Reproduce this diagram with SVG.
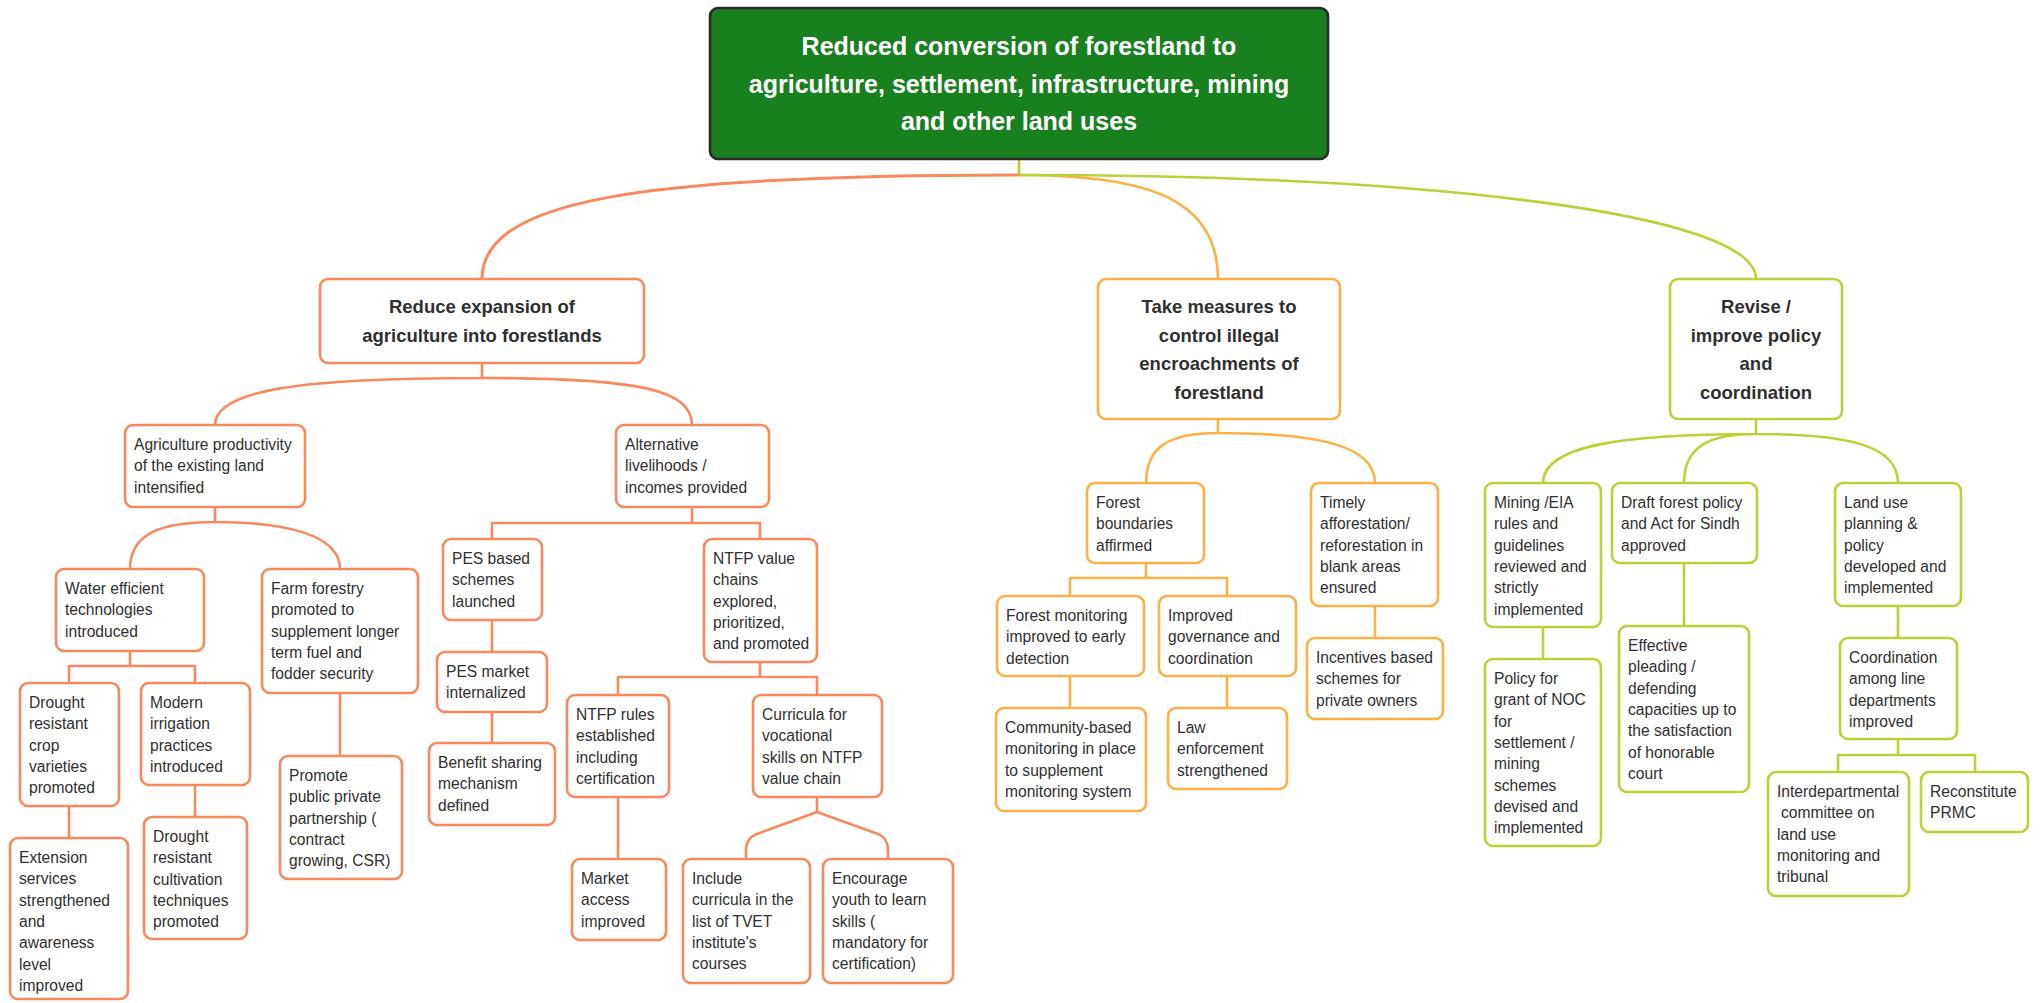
<svg xmlns="http://www.w3.org/2000/svg" width="2040" height="1003" viewBox="0 0 2040 1003">
<style>
.bg{fill:#ffffff}
.n rect{fill:#ffffff;stroke-width:2.6}
.o rect{stroke:#F8895C}
.a rect{stroke:#FDB043}
.g rect{stroke:#B9D236}
.root rect{fill:#19801F;stroke:#2a2a2a;stroke-width:2.6}
text{font-family:"Liberation Sans",Arial,sans-serif;fill:#2f2f2f}
.t{font-size:15.6px}
.h{font-size:18.5px;font-weight:bold;text-anchor:middle}
.r{font-size:25px;font-weight:bold;text-anchor:middle;fill:#ffffff}
.c path{fill:none;stroke-width:2.6;stroke-linejoin:round}
.c .co{stroke:#F8895C}
.c .ca{stroke:#FDB043}
.c .cg{stroke:#B9D236}
.c .cs{stroke:#C2C43A}
</style>
<rect class="bg" x="0" y="0" width="2040" height="1003"/>
<g id="connectors" class="c">
<path class="cs" d="M1019,159 V175"/>
<path class="co" d="M1019,175 C640,175 482,200 482,279" style="stroke-width:3"/>
<path class="ca" d="M1019,175 C1150,175 1218,200 1218,279"/>
<path class="cg" d="M1019,175 C1420,175 1756,212 1756,279"/>
<path class="co" d="M482,363 V378 M482,378 C300,378 215,390 215,425 M482,378 C640,378 692,390 692,425"/>
<path class="co" d="M215,507 V522 M215,522 C160,522 130,534 130,569 M215,522 C283,522 340,534 340,569"/>
<path class="co" d="M130,651 V666 M69,683 V666 H195 V683"/>
<path class="co" d="M69,806 V838 M195,785 V817 M340,693 V756"/>
<path class="co" d="M692,507 V523 M492,539 V523 H760 V539"/>
<path class="co" d="M492,620 V652 M492,712 V743"/>
<path class="co" d="M760,662 V677 M618,695 V677 H817 V695"/>
<path class="co" d="M618,797 V859"/>
<path class="co" d="M817,797 V812 M817,812 L757,834 Q746,838 746,850 V859 M817,812 L878,834 Q888,838 888,850 V859"/>
<path class="ca" d="M1218,419 V433 M1218,433 C1170,433 1146,446 1146,483 M1218,433 C1320,433 1375,446 1375,483"/>
<path class="ca" d="M1146,563 V578 M1070,596 V578 H1227 V596"/>
<path class="ca" d="M1070,676 V708 M1227,676 V708 M1375,606 V638"/>
<path class="cg" d="M1756,419 V434 M1756,434 C1620,434 1543,446 1543,483 M1756,434 C1710,434 1684,446 1684,483 M1756,434 C1850,434 1898,446 1898,483"/>
<path class="cg" d="M1543,627 V659 M1684,563 V626 M1898,606 V638"/>
<path class="cg" d="M1898,739 V755 M1838,772 V755 H1975 V772"/>
</g>
<g id="root" class="root">
<rect x="710" y="8" width="618" height="151" rx="8"/>
<text class="r" x="1019" y="55">Reduced conversion of forestland to</text>
<text class="r" x="1019" y="93">agriculture, settlement, infrastructure, mining</text>
<text class="r" x="1019" y="130">and other land uses</text>
</g>
<g id="reduce-expansion" class="n o">
<rect x="320" y="279" width="324" height="84" rx="8"/>
<text class="h" x="482" y="313">Reduce expansion of</text>
<text class="h" x="482" y="342">agriculture into forestlands</text>
</g>
<g id="take-measures" class="n a">
<rect x="1098" y="279" width="242" height="140" rx="8"/>
<text class="h" x="1219" y="313">Take measures to</text>
<text class="h" x="1219" y="341.5">control illegal</text>
<text class="h" x="1219" y="370">encroachments of</text>
<text class="h" x="1219" y="398.5">forestland</text>
</g>
<g id="revise-policy" class="n g">
<rect x="1670" y="279" width="172" height="140" rx="8"/>
<text class="h" x="1756" y="313">Revise /</text>
<text class="h" x="1756" y="341.5">improve policy</text>
<text class="h" x="1756" y="370">and</text>
<text class="h" x="1756" y="398.5">coordination</text>
</g>
<g id="agri-productivity" class="n o">
<rect x="125" y="425" width="180" height="82" rx="8"/>
<text class="t" x="134" y="450"><tspan x="134">Agriculture productivity</tspan><tspan x="134" dy="21.3">of the existing land</tspan><tspan x="134" dy="21.3">intensified</tspan></text>
</g>
<g id="alt-livelihoods" class="n o">
<rect x="616" y="425" width="153" height="82" rx="8"/>
<text class="t" x="625" y="450"><tspan x="625">Alternative</tspan><tspan x="625" dy="21.3">livelihoods /</tspan><tspan x="625" dy="21.3">incomes provided</tspan></text>
</g>
<g id="water-efficient" class="n o">
<rect x="56" y="569" width="148" height="82" rx="8"/>
<text class="t" x="65" y="594"><tspan x="65">Water efficient</tspan><tspan x="65" dy="21.3">technologies</tspan><tspan x="65" dy="21.3">introduced</tspan></text>
</g>
<g id="farm-forestry" class="n o">
<rect x="262" y="569" width="156" height="124" rx="8"/>
<text class="t" x="271" y="594"><tspan x="271">Farm forestry</tspan><tspan x="271" dy="21.3">promoted to</tspan><tspan x="271" dy="21.3">supplement longer</tspan><tspan x="271" dy="21.3">term fuel and</tspan><tspan x="271" dy="21.3">fodder security</tspan></text>
</g>
<g id="drought-crop" class="n o">
<rect x="20" y="683" width="99" height="123" rx="8"/>
<text class="t" x="29" y="708"><tspan x="29">Drought</tspan><tspan x="29" dy="21.3">resistant</tspan><tspan x="29" dy="21.3">crop</tspan><tspan x="29" dy="21.3">varieties</tspan><tspan x="29" dy="21.3">promoted</tspan></text>
</g>
<g id="modern-irrigation" class="n o">
<rect x="141" y="683" width="109" height="102" rx="8"/>
<text class="t" x="150" y="708"><tspan x="150">Modern</tspan><tspan x="150" dy="21.3">irrigation</tspan><tspan x="150" dy="21.3">practices</tspan><tspan x="150" dy="21.3">introduced</tspan></text>
</g>
<g id="extension-services" class="n o">
<rect x="10" y="838" width="118" height="161" rx="8"/>
<text class="t" x="19" y="863"><tspan x="19">Extension</tspan><tspan x="19" dy="21.3">services</tspan><tspan x="19" dy="21.3">strengthened</tspan><tspan x="19" dy="21.3">and</tspan><tspan x="19" dy="21.3">awareness</tspan><tspan x="19" dy="21.3">level</tspan><tspan x="19" dy="21.3">improved</tspan></text>
</g>
<g id="drought-cultivation" class="n o">
<rect x="144" y="817" width="103" height="122" rx="8"/>
<text class="t" x="153" y="842"><tspan x="153">Drought</tspan><tspan x="153" dy="21.3">resistant</tspan><tspan x="153" dy="21.3">cultivation</tspan><tspan x="153" dy="21.3">techniques</tspan><tspan x="153" dy="21.3">promoted</tspan></text>
</g>
<g id="promote-ppp" class="n o">
<rect x="280" y="756" width="122" height="123" rx="8"/>
<text class="t" x="289" y="781"><tspan x="289">Promote</tspan><tspan x="289" dy="21.3">public private</tspan><tspan x="289" dy="21.3">partnership (</tspan><tspan x="289" dy="21.3">contract</tspan><tspan x="289" dy="21.3">growing, CSR)</tspan></text>
</g>
<g id="pes-schemes" class="n o">
<rect x="443" y="539" width="99" height="81" rx="8"/>
<text class="t" x="452" y="564"><tspan x="452">PES based</tspan><tspan x="452" dy="21.3">schemes</tspan><tspan x="452" dy="21.3">launched</tspan></text>
</g>
<g id="pes-market" class="n o">
<rect x="437" y="652" width="110" height="60" rx="8"/>
<text class="t" x="446" y="677"><tspan x="446">PES market</tspan><tspan x="446" dy="21.3">internalized</tspan></text>
</g>
<g id="benefit-sharing" class="n o">
<rect x="429" y="743" width="126" height="82" rx="8"/>
<text class="t" x="438" y="768"><tspan x="438">Benefit sharing</tspan><tspan x="438" dy="21.3">mechanism</tspan><tspan x="438" dy="21.3">defined</tspan></text>
</g>
<g id="ntfp-chains" class="n o">
<rect x="704" y="539" width="113" height="123" rx="8"/>
<text class="t" x="713" y="564"><tspan x="713">NTFP value</tspan><tspan x="713" dy="21.3">chains</tspan><tspan x="713" dy="21.3">explored,</tspan><tspan x="713" dy="21.3">prioritized,</tspan><tspan x="713" dy="21.3">and promoted</tspan></text>
</g>
<g id="ntfp-rules" class="n o">
<rect x="567" y="695" width="102" height="102" rx="8"/>
<text class="t" x="576" y="720"><tspan x="576">NTFP rules</tspan><tspan x="576" dy="21.3">established</tspan><tspan x="576" dy="21.3">including</tspan><tspan x="576" dy="21.3">certification</tspan></text>
</g>
<g id="curricula" class="n o">
<rect x="753" y="695" width="129" height="102" rx="8"/>
<text class="t" x="762" y="720"><tspan x="762">Curricula for</tspan><tspan x="762" dy="21.3">vocational</tspan><tspan x="762" dy="21.3">skills on NTFP</tspan><tspan x="762" dy="21.3">value chain</tspan></text>
</g>
<g id="market-access" class="n o">
<rect x="572" y="859" width="94" height="81" rx="8"/>
<text class="t" x="581" y="884"><tspan x="581">Market</tspan><tspan x="581" dy="21.3">access</tspan><tspan x="581" dy="21.3">improved</tspan></text>
</g>
<g id="include-curricula" class="n o">
<rect x="683" y="859" width="127" height="124" rx="8"/>
<text class="t" x="692" y="884"><tspan x="692">Include</tspan><tspan x="692" dy="21.3">curricula in the</tspan><tspan x="692" dy="21.3">list of TVET</tspan><tspan x="692" dy="21.3">institute's</tspan><tspan x="692" dy="21.3">courses</tspan></text>
</g>
<g id="encourage-youth" class="n o">
<rect x="823" y="859" width="130" height="124" rx="8"/>
<text class="t" x="832" y="884"><tspan x="832">Encourage</tspan><tspan x="832" dy="21.3">youth to learn</tspan><tspan x="832" dy="21.3">skills (</tspan><tspan x="832" dy="21.3">mandatory for</tspan><tspan x="832" dy="21.3">certification)</tspan></text>
</g>
<g id="forest-boundaries" class="n a">
<rect x="1087" y="483" width="117" height="80" rx="8"/>
<text class="t" x="1096" y="508"><tspan x="1096">Forest</tspan><tspan x="1096" dy="21.3">boundaries</tspan><tspan x="1096" dy="21.3">affirmed</tspan></text>
</g>
<g id="timely-afforestation" class="n a">
<rect x="1311" y="483" width="127" height="123" rx="8"/>
<text class="t" x="1320" y="508"><tspan x="1320">Timely</tspan><tspan x="1320" dy="21.3">afforestation/</tspan><tspan x="1320" dy="21.3">reforestation in</tspan><tspan x="1320" dy="21.3">blank areas</tspan><tspan x="1320" dy="21.3">ensured</tspan></text>
</g>
<g id="forest-monitoring" class="n a">
<rect x="997" y="596" width="147" height="80" rx="8"/>
<text class="t" x="1006" y="621"><tspan x="1006">Forest monitoring</tspan><tspan x="1006" dy="21.3">improved to early</tspan><tspan x="1006" dy="21.3">detection</tspan></text>
</g>
<g id="improved-governance" class="n a">
<rect x="1159" y="596" width="137" height="80" rx="8"/>
<text class="t" x="1168" y="621"><tspan x="1168">Improved</tspan><tspan x="1168" dy="21.3">governance and</tspan><tspan x="1168" dy="21.3">coordination</tspan></text>
</g>
<g id="community-monitoring" class="n a">
<rect x="996" y="708" width="150" height="103" rx="8"/>
<text class="t" x="1005" y="733"><tspan x="1005">Community-based</tspan><tspan x="1005" dy="21.3">monitoring in place</tspan><tspan x="1005" dy="21.3">to supplement</tspan><tspan x="1005" dy="21.3">monitoring system</tspan></text>
</g>
<g id="law-enforcement" class="n a">
<rect x="1168" y="708" width="119" height="81" rx="8"/>
<text class="t" x="1177" y="733"><tspan x="1177">Law</tspan><tspan x="1177" dy="21.3">enforcement</tspan><tspan x="1177" dy="21.3">strengthened</tspan></text>
</g>
<g id="incentives" class="n a">
<rect x="1307" y="638" width="136" height="81" rx="8"/>
<text class="t" x="1316" y="663"><tspan x="1316">Incentives based</tspan><tspan x="1316" dy="21.3">schemes for</tspan><tspan x="1316" dy="21.3">private owners</tspan></text>
</g>
<g id="mining-eia" class="n g">
<rect x="1485" y="483" width="116" height="144" rx="8"/>
<text class="t" x="1494" y="508"><tspan x="1494">Mining /EIA</tspan><tspan x="1494" dy="21.3">rules and</tspan><tspan x="1494" dy="21.3">guidelines</tspan><tspan x="1494" dy="21.3">reviewed and</tspan><tspan x="1494" dy="21.3">strictly</tspan><tspan x="1494" dy="21.3">implemented</tspan></text>
</g>
<g id="draft-policy" class="n g">
<rect x="1612" y="483" width="145" height="80" rx="8"/>
<text class="t" x="1621" y="508"><tspan x="1621">Draft forest policy</tspan><tspan x="1621" dy="21.3">and Act for Sindh</tspan><tspan x="1621" dy="21.3">approved</tspan></text>
</g>
<g id="land-use" class="n g">
<rect x="1835" y="483" width="126" height="123" rx="8"/>
<text class="t" x="1844" y="508"><tspan x="1844">Land use</tspan><tspan x="1844" dy="21.3">planning &amp;</tspan><tspan x="1844" dy="21.3">policy</tspan><tspan x="1844" dy="21.3">developed and</tspan><tspan x="1844" dy="21.3">implemented</tspan></text>
</g>
<g id="policy-noc" class="n g">
<rect x="1485" y="659" width="116" height="187" rx="8"/>
<text class="t" x="1494" y="684"><tspan x="1494">Policy for</tspan><tspan x="1494" dy="21.3">grant of NOC</tspan><tspan x="1494" dy="21.3">for</tspan><tspan x="1494" dy="21.3">settlement /</tspan><tspan x="1494" dy="21.3">mining</tspan><tspan x="1494" dy="21.3">schemes</tspan><tspan x="1494" dy="21.3">devised and</tspan><tspan x="1494" dy="21.3">implemented</tspan></text>
</g>
<g id="effective-pleading" class="n g">
<rect x="1619" y="626" width="130" height="166" rx="8"/>
<text class="t" x="1628" y="651"><tspan x="1628">Effective</tspan><tspan x="1628" dy="21.3">pleading /</tspan><tspan x="1628" dy="21.3">defending</tspan><tspan x="1628" dy="21.3">capacities up to</tspan><tspan x="1628" dy="21.3">the satisfaction</tspan><tspan x="1628" dy="21.3">of honorable</tspan><tspan x="1628" dy="21.3">court</tspan></text>
</g>
<g id="coordination" class="n g">
<rect x="1840" y="638" width="117" height="101" rx="8"/>
<text class="t" x="1849" y="663"><tspan x="1849">Coordination</tspan><tspan x="1849" dy="21.3">among line</tspan><tspan x="1849" dy="21.3">departments</tspan><tspan x="1849" dy="21.3">improved</tspan></text>
</g>
<g id="interdepartmental" class="n g">
<rect x="1768" y="772" width="141" height="124" rx="8"/>
<text class="t" x="1777" y="797"><tspan x="1777">Interdepartmental</tspan><tspan x="1781" dy="21.3">committee on</tspan><tspan x="1777" dy="21.3">land use</tspan><tspan x="1777" dy="21.3">monitoring and</tspan><tspan x="1777" dy="21.3">tribunal</tspan></text>
</g>
<g id="reconstitute-prmc" class="n g">
<rect x="1921" y="772" width="107" height="60" rx="8"/>
<text class="t" x="1930" y="797"><tspan x="1930">Reconstitute</tspan><tspan x="1930" dy="21.3">PRMC</tspan></text>
</g>
</svg>
